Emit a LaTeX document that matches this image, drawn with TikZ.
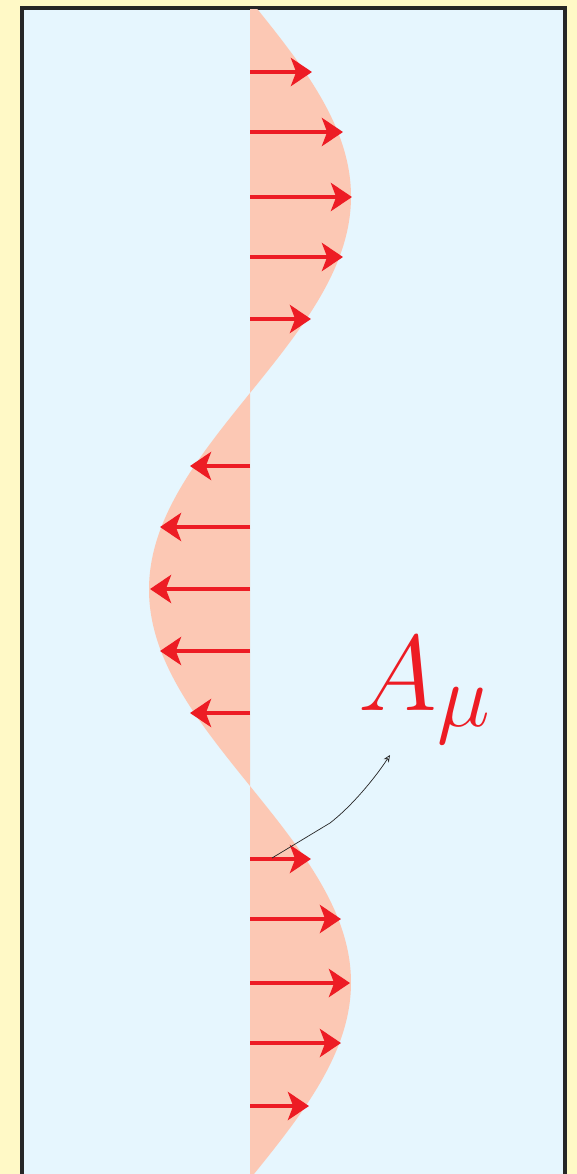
\documentclass[tikz,border=0pt]{standalone}
\usepackage{xcolor}
\usepackage{tikz}
\usetikzlibrary{arrows.meta}
\definecolor{pagecream}{RGB}{255,249,198}
\definecolor{fieldsky}{RGB}{230,246,254}
\definecolor{wavesalmon}{RGB}{252,200,180}
\definecolor{fieldred}{RGB}{237,28,36}
\tikzset{
  framebox/.style={
    draw=black!85,
    line width=1.8pt,
    fill=fieldsky
  },
  wavefill/.style={
    fill=wavesalmon
  },
  fieldarrow/.style={
    -{Stealth[length=12pt,width=16pt,inset=3pt]},
    line width=2.8pt,
    draw=fieldred
  },
  pointerarrow/.style={
    -{Stealth[length=4pt,width=3.5pt,open]},
    thin,
    draw=black!85
  }
}

\begin{document}
\begin{tikzpicture}[x=0.02cm,y=-0.02cm]
\useasboundingbox (0,0) rectangle (577,1174);
\fill[pagecream] (0,0) rectangle (577,1174);
\draw[framebox] (22,8) rectangle (565,1190);

% the wave, clipped to the frame
\begin{scope}
\clip (23,9) rectangle (564,1189);
\fill[wavefill] (250,0) -- plot[domain=0:1190,samples=200,smooth,variable=\t]
  ({250+101*sin(0.45802*\t)},\t) -- (250,1190) -- cycle;
\end{scope}

% field arrows
\foreach \yy/\xx in {72/312,132/343,197/352,257/343,319/311,
                     466/190,527/160,589/150,651/160,713/190,
                     859/311,919/341,983/350,1043/341,1106/309}
  \draw[fieldarrow] (250,\yy) -- (\xx,\yy);

% label
\node[anchor=base west, inner sep=0pt, text=fieldred, font=\Huge,
  scale=2.45, transform shape] (amu) at (358,710) {$A_\mu$};
\coordinate (pointer) at (272,858);
\coordinate (amutip) at (390,755);
\draw[pointerarrow] (pointer) -- (330,823)
  .. controls (352,806) and (375,778) .. (amutip);
\end{tikzpicture}
\end{document}
